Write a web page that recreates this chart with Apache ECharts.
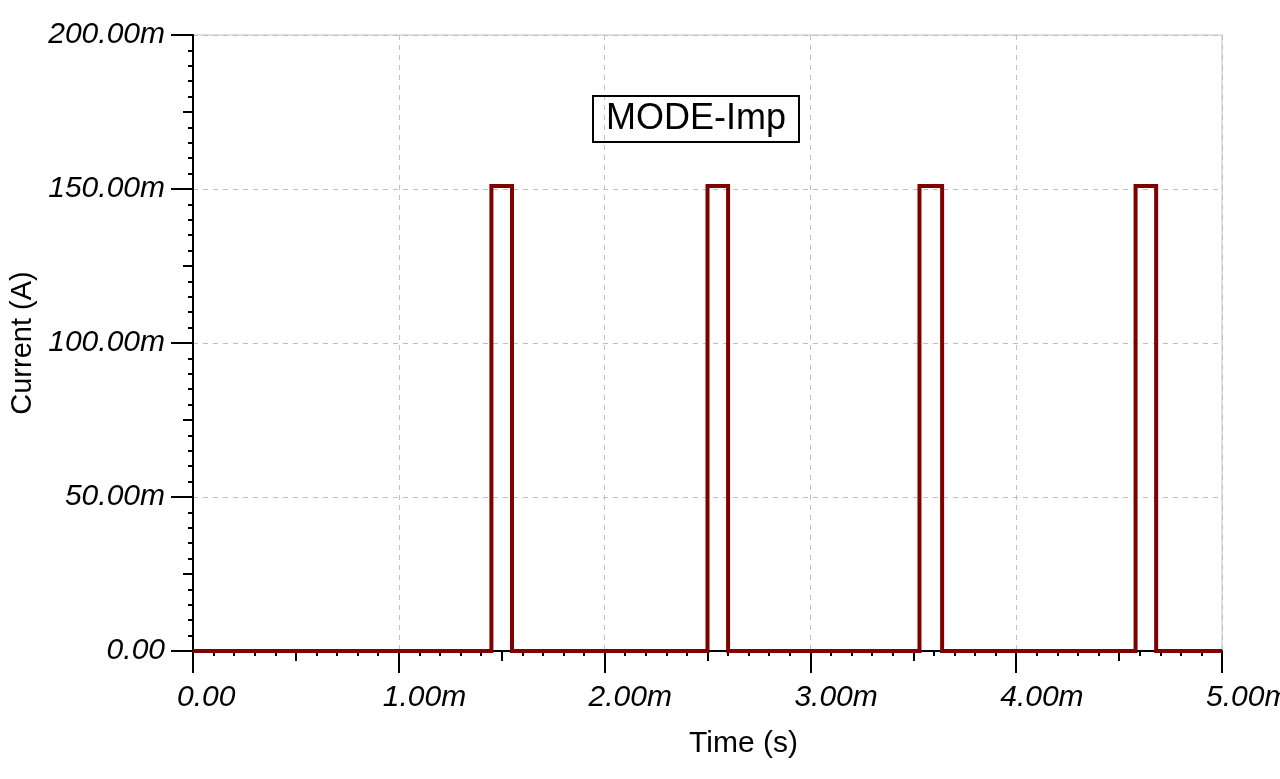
<!DOCTYPE html>
<html>
<head>
<meta charset="utf-8">
<script src="https://cdn.jsdelivr.net/npm/echarts@6/dist/echarts.min.js"></script>
<style>
  html, body { margin: 0; padding: 0; background: #fff; }
  #chart { width: 1280px; height: 779px; }
</style>
</head>
<body>
<div id="chart"></div>
<script>
// 脉冲电流波形 (时间单位 s, 电流单位 A)
const timePoints = [0, 0.00145, 0.00145, 0.00155, 0.00155, 0.00250, 0.00250, 0.00260, 0.00260,
  0.00353, 0.00353, 0.00364, 0.00364, 0.00458, 0.00458, 0.00468, 0.00468, 0.005];
const currentValues = [0, 0, 0.151, 0.151, 0, 0, 0.151, 0.151, 0,
  0, 0.151, 0.151, 0, 0, 0.151, 0.151, 0, 0];
const seriesName = 'MODE-Imp';

const chart = echarts.init(document.getElementById('chart'));

const FONT = 'Liberation Sans, Arial, sans-serif';
const LABEL_SIZE = 30;

// 刻度标签格式: 0.00, 1.00m ...
function fmtMilli(v) {
  if (Math.abs(v) < 1e-12) return '0.00';
  return (v * 1000).toFixed(2) + 'm';
}

// X 轴标签左对齐到刻度左侧 16px，用前置空白块实现
const ctx = document.createElement('canvas').getContext('2d');
ctx.font = 'italic ' + LABEL_SIZE + 'px ' + FONT;
const wZero = ctx.measureText('0.00').width;
const wMilli = ctx.measureText('1.00m').width;

const labelFont = {
  fontFamily: FONT,
  fontStyle: 'italic',
  fontSize: LABEL_SIZE,
  color: '#000'
};
const nameFont = {
  fontFamily: FONT,
  fontSize: 30,
  color: '#000'
};
const tickStyle = { color: '#000', width: 2 };

const option = {
  backgroundColor: '#fff',
  animation: false,
  title: {
    text: seriesName,
    left: 593,
    top: 96,
    padding: [5, 13],
    borderColor: '#000',
    borderWidth: 2,
    textStyle: {
      fontFamily: FONT,
      fontWeight: 'normal',
      fontSize: 36,
      color: '#000'
    }
  },
  grid: {
    left: 193,
    right: 58,
    top: 35,
    bottom: 128,
    containLabel: false,
    outerBoundsMode: 'none',
    show: true,
    borderColor: '#c0c0c0',
    borderWidth: 1
  },
  xAxis: [
    {
      type: 'value',
      position: 'bottom',
      min: 0,
      max: 0.005,
      interval: 0.001,
      name: 'Time (s)',
      nameLocation: 'middle',
      nameGap: 78,
      nameTextStyle: Object.assign({ padding: [0, 0, 0, 72] }, nameFont),
      axisLine: { show: true, onZero: false, lineStyle: { color: '#000', width: 2 } },
      axisTick: { show: true, inside: false, length: 22, lineStyle: tickStyle },
      minorTick: { show: true, splitNumber: 10, length: 5, lineStyle: tickStyle },
      axisLabel: {
        margin: 32,
        formatter: function (v) {
          const txt = fmtMilli(v);
          return (txt === '0.00' ? '{s0| }' : '{s1| }') + '{t|' + txt + '}';
        },
        rich: {
          s0: { width: wZero - 32 },
          s1: { width: wMilli - 32 },
          t: labelFont
        }
      },
      splitLine: { show: true, lineStyle: { color: '#c0c0c0', type: [5, 5], width: 1 } }
    },
    {
      type: 'value',
      position: 'bottom',
      offset: 0,
      min: 0,
      max: 0.005,
      interval: 0.0005,
      axisLine: { show: false },
      axisTick: { show: true, inside: false, length: 10, lineStyle: tickStyle },
      axisLabel: { show: false },
      splitLine: { show: false }
    }
  ],
  yAxis: [
    {
      type: 'value',
      position: 'left',
      min: 0,
      max: 0.2,
      interval: 0.05,
      name: 'Current (A)',
      nameLocation: 'middle',
      nameGap: 156,
      nameTextStyle: Object.assign({}, nameFont, { fontSize: 29 }),
      axisLine: { show: true, onZero: false, lineStyle: { color: '#000', width: 2 } },
      axisTick: { show: true, inside: false, length: 22, lineStyle: tickStyle },
      minorTick: { show: true, splitNumber: 10, length: 5, lineStyle: tickStyle },
      axisLabel: Object.assign({ formatter: fmtMilli, margin: 28 }, labelFont),
      splitLine: { show: true, lineStyle: { color: '#c0c0c0', type: [5, 5], width: 1 } }
    },
    {
      type: 'value',
      position: 'left',
      offset: 0,
      min: 0,
      max: 0.2,
      interval: 0.025,
      axisLine: { show: false },
      axisTick: { show: true, inside: false, length: 10, lineStyle: tickStyle },
      axisLabel: { show: false },
      splitLine: { show: false }
    }
  ],
  series: [
    {
      name: seriesName,
      type: 'line',
      xAxisIndex: 0,
      yAxisIndex: 0,
      data: timePoints.map((t, i) => [t, currentValues[i]]),
      showSymbol: false,
      lineStyle: { color: '#800000', width: 4, join: 'miter' },
      z: 5
    }
  ]
};

chart.setOption(option);
</script>
</body>
</html>
